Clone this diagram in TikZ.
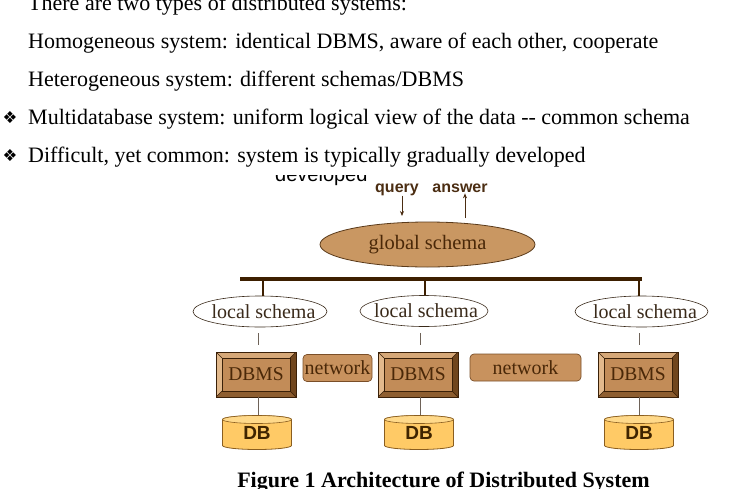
\documentclass[tikz,border=0pt]{standalone}
\usepackage{fontspec}
\setmainfont{Liberation Serif}
\newfontfamily\arialf{Liberation Sans}
\newfontfamily\djv{DejaVu Sans}
\usetikzlibrary{arrows.meta,shapes.geometric}
\definecolor{brtext}{HTML}{4A2808}
\definecolor{qtextc}{HTML}{4B2D12}
\definecolor{gsfill}{HTML}{C99762}
\definecolor{gsedge}{HTML}{5A3A1A}
\definecolor{busc}{HTML}{3D1F00}
\definecolor{lsedge}{HTML}{3A2A1A}
\definecolor{connc}{HTML}{6E6258}
\definecolor{dbmsin}{HTML}{C28C58}
\definecolor{bevtop}{HTML}{D6A878}
\definecolor{bevleft}{HTML}{E2B98C}
\definecolor{bevbot}{HTML}{8E5E30}
\definecolor{bevright}{HTML}{70461E}
\definecolor{dbmsedge}{HTML}{3A2008}
\definecolor{netfill}{HTML}{C8925E}
\definecolor{netedge}{HTML}{7A4E28}
\definecolor{dbfill}{HTML}{FFCA66}
\definecolor{dbtop}{HTML}{FFD98A}
\definecolor{dbedge}{HTML}{8A5E20}
\definecolor{dbtext}{HTML}{3F2400}
\begin{document}
\begin{tikzpicture}[x=1pt,y=-1pt,
  bodytext/.style={inner sep=0pt, anchor=base west, font=\fontsize{22}{22}\selectfont},
  bul/.style={inner sep=0pt, anchor=base west, font=\djv\fontsize{16.5}{16.5}\selectfont},
  capt/.style={inner sep=0pt, anchor=base, font=\bfseries\fontsize{22}{22}\selectfont},
  qtext/.style={inner sep=0pt, anchor=base, text=qtextc, font=\arialf\bfseries\fontsize{16}{16}\selectfont},
  gschema/.style={ellipse, draw=gsedge, line width=0.8pt, fill=gsfill, minimum width=215pt, minimum height=45pt, inner sep=0pt, text=brtext, font=\fontsize{20.5}{20.5}\selectfont},
  lschema/.style={ellipse, draw=lsedge, line width=0.6pt, fill=white, minimum height=31pt, inner sep=0pt, text=lsedge, font=\fontsize{20}{20}\selectfont},
  dbmsbox/.style={rectangle, draw=dbmsedge, line width=0.8pt, fill=dbmsin, minimum width=80pt, minimum height=45pt, inner sep=0pt, text=brtext, font=\fontsize{19.5}{19.5}\selectfont,
    path picture={
      \fill[bevtop] (path picture bounding box.north west) -- (path picture bounding box.north east) -- ([shift={(-6pt,-6pt)}]path picture bounding box.north east) -- ([shift={(6pt,-6pt)}]path picture bounding box.north west) -- cycle;
      \fill[bevleft] (path picture bounding box.north west) -- ([shift={(6pt,-6pt)}]path picture bounding box.north west) -- ([shift={(6pt,6pt)}]path picture bounding box.south west) -- (path picture bounding box.south west) -- cycle;
      \fill[bevbot] (path picture bounding box.south west) -- ([shift={(6pt,6pt)}]path picture bounding box.south west) -- ([shift={(-6pt,6pt)}]path picture bounding box.south east) -- (path picture bounding box.south east) -- cycle;
      \fill[bevright] (path picture bounding box.north east) -- (path picture bounding box.south east) -- ([shift={(-6pt,6pt)}]path picture bounding box.south east) -- ([shift={(-6pt,-6pt)}]path picture bounding box.north east) -- cycle;
      \draw[dbmsedge, line width=0.6pt] ([shift={(6pt,-6pt)}]path picture bounding box.north west) rectangle ([shift={(-6pt,6pt)}]path picture bounding box.south east);
      \draw[dbmsedge, line width=0.4pt] (path picture bounding box.north west) -- ([shift={(6pt,-6pt)}]path picture bounding box.north west)
        (path picture bounding box.north east) -- ([shift={(-6pt,-6pt)}]path picture bounding box.north east)
        (path picture bounding box.south west) -- ([shift={(6pt,6pt)}]path picture bounding box.south west)
        (path picture bounding box.south east) -- ([shift={(-6pt,6pt)}]path picture bounding box.south east);
    }},
  netbox/.style={rectangle, rounded corners=4pt, draw=netedge, line width=0.7pt, fill=netfill, minimum height=27pt, inner sep=0pt, text=brtext, font=\fontsize{20}{20}\selectfont},
  dbcyl/.style={rectangle, minimum width=70pt, minimum height=35pt, inner sep=0pt, text=dbtext, font=\arialf\bfseries\fontsize{19}{19}\selectfont,
    path picture={
      \filldraw[fill=dbfill, draw=dbedge, line width=0.8pt] ([shift={(0.5pt,-4.5pt)}]path picture bounding box.north west) -- ([shift={(0.5pt,4.5pt)}]path picture bounding box.south west) arc[start angle=180, end angle=360, x radius=34.5pt, y radius=4pt] -- ([shift={(-0.5pt,-4.5pt)}]path picture bounding box.north east) arc[start angle=0, end angle=180, x radius=34.5pt, y radius=4pt] -- cycle;
      \filldraw[fill=dbtop, draw=dbedge, line width=0.6pt] ([yshift=-4.5pt]path picture bounding box.north) ellipse [x radius=34.5pt, y radius=4pt];
    }},
  conn/.style={draw=connc, line width=0.6pt},
  bus/.style={draw=busc, line width=3.5pt},
  tickline/.style={draw=busc, line width=2.5pt},
  arr/.style={draw=qtextc, line width=0.8pt, -{Stealth[length=5pt,width=4pt]}}
]
\useasboundingbox (0,0) rectangle (729,488);

% leftover word, its upper part hidden by the text block above
\node[inner sep=0pt, anchor=base west, font=\arialf\fontsize{20}{20}\selectfont] (dev) at (275,181) {developed};
\fill[white] (268,150) rectangle (378,175);

% body text
\node[bodytext] (t1) at (28,10) {There are two types of distributed systems:};
\node[bodytext] (t2) at (28,48) {Homogeneous system: identical DBMS, aware of each other, cooperate};
\node[bodytext] (t3) at (28,86) {Heterogeneous system: different schemas/DBMS};
\node[bul] (b4) at (2.5,123) {❖};
\node[bodytext] (t4) at (28,124) {Multidatabase system: uniform logical view of the data -{}- common schema};
\node[bul] (b5) at (2.5,161) {❖};
\node[bodytext] (t5) at (28,162) {Difficult, yet common: system is typically gradually developed};

% query / answer
\node[qtext] (query) at (397,192) {query};
\node[qtext] (answer) at (460,192) {answer};
\node[gschema] (gs) at (427.5,244.5) {global schema};
\coordinate (qt) at (402,216);
\coordinate (as) at (465,218);
\draw[arr] ([xshift=5pt]query.south) -- (qt);
\draw[arr] (as) -- ([xshift=5pt,yshift=-1pt]answer.south);

% bus
\coordinate (barL) at (240,279);
\coordinate (barR) at (642,279);
\draw[bus] (barL) -- (barR);
\coordinate (k1) at (263,279);
\coordinate (k2) at (425,279);
\coordinate (k3) at (639,279);

% local schemas
\node[lschema, minimum width=134pt] (ls1) at (260,311.5) {\makebox[0pt][c]{\hspace*{7pt}local schema}};
\node[lschema, minimum width=128pt] (ls2) at (424,311) {\makebox[0pt][c]{\hspace*{4pt}local schema}};
\node[lschema, minimum width=133pt] (ls3) at (641.5,311.5) {\makebox[0pt][c]{\hspace*{7pt}local schema}};
\draw[tickline] (k1) -- (k1 |- ls1.north);
\draw[tickline] (k2) -- (k2 |- ls2.north);
\draw[tickline] (k3) -- (k3 |- ls3.north);

% DBMS boxes
\node[dbmsbox] (dbms1) at (256,374.5) {DBMS};
\node[dbmsbox] (dbms2) at (418,374.5) {DBMS};
\node[dbmsbox] (dbms3) at (638,374.5) {DBMS};

% networks
\node[netbox, minimum width=69pt] (net1) at (337.5,368) {network};
\node[netbox, minimum width=111pt] (net2) at (525.5,367.5) {network};

% DBs
\node[dbcyl] (db1) at (257,432.5) {DB};
\node[dbcyl] (db2) at (419,432.5) {DB};
\node[dbcyl] (db3) at (639,432.5) {DB};

% connectors
\coordinate (u1) at ([xshift=2pt]ls1.south -| dbms1.north);
\coordinate (u2) at ([xshift=2pt]ls2.south -| dbms2.north);
\coordinate (u3) at ([xshift=1pt]ls3.south -| dbms3.north);
\draw[conn] ([yshift=-6pt]u1) -- ([yshift=7pt]u1 |- dbms1.north);
\draw[conn] ([yshift=-6pt]u2) -- ([yshift=7pt]u2 |- dbms2.north);
\draw[conn] ([yshift=-6pt]u3) -- ([yshift=7pt]u3 |- dbms3.north);
\draw[conn] ([xshift=2pt]dbms1.south) -- ([xshift=1pt]db1.north);
\draw[conn] ([xshift=2pt]dbms2.south) -- ([xshift=1pt]db2.north);
\draw[conn] ([xshift=1pt]dbms3.south) -- (db3.north);

% caption
\node[capt] (cap) at (443.5,487) {Figure 1 Architecture of Distributed System};
\end{tikzpicture}
\end{document}
